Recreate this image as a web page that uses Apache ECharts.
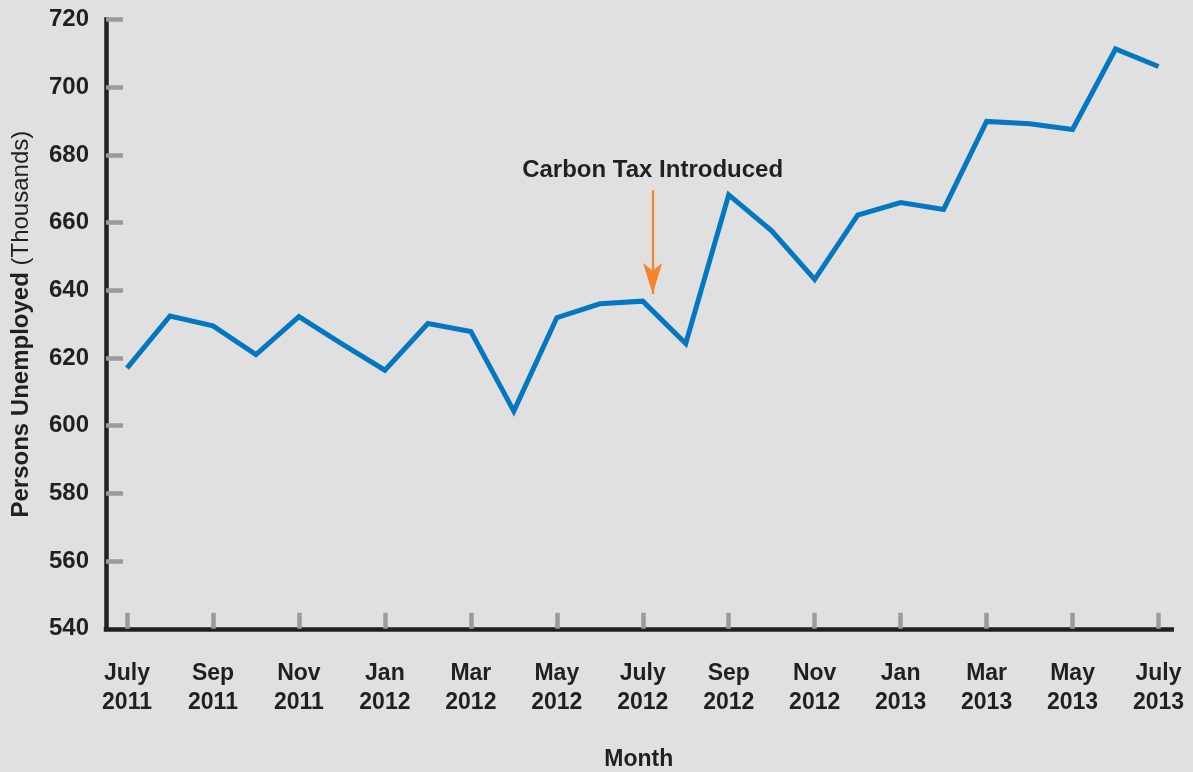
<!DOCTYPE html>
<html>
<head>
<meta charset="utf-8">
<script src="https://cdn.jsdelivr.net/npm/echarts@6/dist/echarts.min.js"></script>
<style>
html,body{margin:0;padding:0;background:#e0e0e0;}
#chart{width:1193px;height:772px;}
</style>
</head>
<body>
<div id="chart"></div>
<script>
// Months (one per data point)
const months = [
  'July 2011','Aug 2011','Sep 2011','Oct 2011','Nov 2011','Dec 2011',
  'Jan 2012','Feb 2012','Mar 2012','Apr 2012','May 2012','Jun 2012',
  'July 2012','Aug 2012','Sep 2012','Oct 2012','Nov 2012','Dec 2012',
  'Jan 2013','Feb 2013','Mar 2013','Apr 2013','May 2013','Jun 2013','July 2013'
];
// Persons unemployed (thousands)
const unemployed = [
  617.0, 632.4, 629.5, 621.0, 632.2, 624.2,
  616.4, 630.2, 627.8, 604.3, 631.9, 636.0,
  636.8, 624.3, 668.2, 657.6, 643.2, 662.2,
  665.9, 663.9, 689.9, 689.2, 687.5, 711.3, 706.1
];
// Labelled tick positions (month index)
const labelledMonths = [0, 2, 4, 6, 8, 10, 12, 14, 16, 18, 20, 22, 24];
// Y axis ticks
const yMin = 540, yMax = 720, yStep = 20;
const yTickValues = [560, 580, 600, 620, 640, 660, 680, 700, 720];
// Annotation
const annotationText = 'Carbon Tax Introduced';
const annotationMonth = 12.23;
const annotationTop = 669.6;
const annotationEnd = 638.9;

const textColor = '#231f20';
const font = '"Liberation Sans", Arial, Helvetica, sans-serif';

const chart = echarts.init(document.getElementById('chart'), null, {renderer: 'canvas'});
const option = {
  backgroundColor: '#e0e0e0',
  animation: false,
  textStyle: {fontFamily: font},
  grid: {left: 106, right: 21.3, top: 19.5, bottom: 143.2, containLabel: false, outerBoundsMode: 'none'},
  xAxis: {
    type: 'value',
    min: -0.489,
    max: 24.307,
    splitLine: {show: false},
    axisLine: {show: true, onZero: false, lineStyle: {color: textColor, width: 4.5, cap: 'square'}},
    axisTick: {show: true, inside: true, length: 16, customValues: labelledMonths,
      lineStyle: {color: '#9b9b9b', width: 4.5}},
    axisLabel: {
      customValues: labelledMonths,
      margin: 30,
      color: textColor,
      fontSize: 23,
      fontWeight: 'bold',
      fontFamily: font,
      lineHeight: 29,
      formatter: function (v) { return months[Math.round(v)].split(' ').join('\n'); }
    },
    name: 'Month',
    nameLocation: 'middle',
    nameGap: 119,
    nameTextStyle: {color: textColor, fontSize: 23, fontWeight: 'bold', fontFamily: font}
  },
  yAxis: {
    type: 'value',
    min: yMin,
    max: yMax,
    interval: yStep,
    splitLine: {show: false},
    axisLine: {show: true, onZero: false, lineStyle: {color: textColor, width: 4.5, cap: 'square'}},
    axisTick: {show: true, inside: true, length: 17, customValues: yTickValues,
      lineStyle: {color: '#9b9b9b', width: 4.5}},
    axisLabel: {
      margin: 17,
      color: textColor,
      fontSize: 24,
      fontWeight: 'bold',
      fontFamily: font
    },
    name: '{b|Persons Unemployed} {n|(Thousands)}',
    nameLocation: 'middle',
    nameGap: 73,
    nameRotate: 90,
    nameTextStyle: {
      color: textColor,
      fontSize: 24,
      fontFamily: font,
      rich: {
        b: {fontSize: 24, fontWeight: 'bold', color: textColor, fontFamily: font},
        n: {fontSize: 24, fontWeight: 'normal', color: textColor, fontFamily: font}
      }
    }
  },
  series: [{
    type: 'line',
    data: unemployed.map(function (v, i) { return [i, v]; }),
    showSymbol: false,
    symbol: 'none',
    lineStyle: {color: '#0477c1', width: 5, join: 'miter', cap: 'butt'},
    markLine: {
      silent: true,
      animation: false,
      symbol: ['none', 'arrow'],
      lineStyle: {color: '#f5832a', width: 2.3, type: 'solid'},
      label: {
        show: true,
        position: 'start',
        distance: 8,
        formatter: annotationText,
        color: textColor,
        fontSize: 24,
        fontWeight: 'bold',
        fontFamily: font
      },
      data: [[
        {coord: [annotationMonth, annotationTop], symbol: 'none'},
        {coord: [annotationMonth, annotationEnd], symbol: 'arrow', symbolSize: [14.3, 31]}
      ]]
    }
  }]
};
chart.setOption(option);
</script>
</body>
</html>
